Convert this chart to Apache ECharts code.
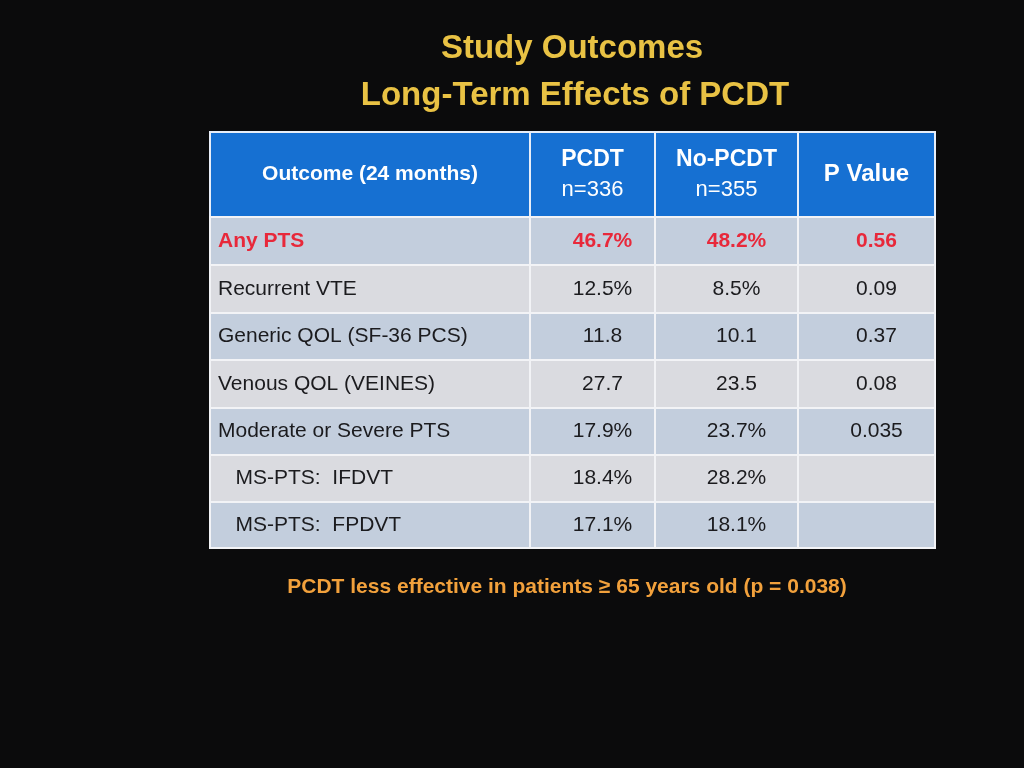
<!DOCTYPE html>
<html><head><meta charset="utf-8">
<script src="https://cdn.jsdelivr.net/npm/echarts@6/dist/echarts.min.js"></script>
<style>html,body{margin:0;background:#0b0b0c}#c{width:1024px;height:768px}</style>
</head><body><div id="c"></div>
<script>
const FF = "'Liberation Sans', Arial, sans-serif";
const titleLines = ['Study Outcomes', 'Long-Term Effects of PCDT'];
const headers = ['Outcome (24 months)', 'PCDT|n=336', 'No-PCDT|n=355', 'P Value'];
const outcomes = ['Any PTS','Recurrent VTE','Generic QOL (SF-36 PCS)','Venous QOL (VEINES)','Moderate or Severe PTS','   MS-PTS:  IFDVT','   MS-PTS:  FPDVT'];
const pcdt = ['46.7%','12.5%','11.8','27.7','17.9%','18.4%','17.1%'];
const noPcdt = ['48.2%','8.5%','10.1','23.5','23.7%','28.2%','18.1%'];
const pValues = ['0.56','0.09','0.37','0.08','0.035','',''];
const footnote = 'PCDT less effective in patients \u2265 65 years old (p = 0.038)';

const colEdges = [0, 320, 445, 588, 725];
const rowEdges = [0, 85, 133, 181, 228, 276, 323, 370, 416];
const data = [];
for (let c = 0; c < 4; c++) data.push([c, 0, headers[c]]);
for (let r = 0; r < outcomes.length; r++) {
  [outcomes[r], pcdt[r], noPcdt[r], pValues[r]].forEach((t, c) => data.push([c, r + 1, t]));
}
const chart = echarts.init(document.getElementById('c'));
const tStyle = {color: '#e9c244', fontSize: 33, fontWeight: 'bold', fontFamily: FF};
chart.setOption({
  backgroundColor: '#0b0b0c',
  title: [
    {text: titleLines[0], left: 567, top: 27, textAlign: 'center', textStyle: tStyle},
    {text: titleLines[1], left: 570, top: 74, textAlign: 'center', textStyle: tStyle},
    {text: footnote, left: 562, top: 572, textAlign: 'center', textStyle: {color: '#f2a13c', fontSize: 21, fontWeight: 'bold', fontFamily: FF}}
  ],
  grid: {left: 210, top: 132, width: 725, height: 416},
  xAxis: {type: 'value', min: 0, max: 725, show: false},
  yAxis: {type: 'value', min: 0, max: 416, inverse: true, show: false},
  series: [{
    type: 'custom',
    data: data,
    renderItem: function (params, api) {
      const c = api.value(0), r = api.value(1);
      const text = data[params.dataIndex][2];
      const p0 = api.coord([colEdges[c], rowEdges[r]]);
      const p1 = api.coord([colEdges[c + 1], rowEdges[r + 1]]);
      const header = r === 0;
      const fill = header ? '#1670d2' : (r % 2 === 1 ? '#c3cedd' : '#dadbe0');
      const red = r === 1;
      const left = c === 0 && !header;
      const tx = left ? p0[0] + 8 : (p0[0] + p1[0]) / 2 + (header || c === 0 ? 0 : 10);
      const ty = (p0[1] + p1[1]) / 2;
      let txtStyle;
      if (header && text.indexOf('|') >= 0) {
        const parts = text.split('|');
        txtStyle = {text: '{b|' + parts[0] + '}\n{n|' + parts[1] + '}', x: tx, y: ty, align: 'center', verticalAlign: 'middle',
          fill: '#fff', fontFamily: FF,
          rich: {b: {fontSize: 23, fontWeight: 'bold', fill: '#fff', fontFamily: FF, lineHeight: 30},
                 n: {fontSize: 22, fill: '#fff', fontFamily: FF, lineHeight: 30}}};
      } else {
        txtStyle = {text: text, x: tx, y: ty, align: left ? 'left' : 'center', verticalAlign: 'middle',
          fill: header ? '#ffffff' : (red ? '#e8283a' : '#1b1b1e'),
          fontSize: header ? (c === 0 ? 21 : 24) : 21,
          fontWeight: header || red ? 'bold' : 'normal', fontFamily: FF};
      }
      return {
        type: 'group',
        children: [
          {type: 'rect', shape: {x: p0[0], y: p0[1], width: p1[0] - p0[0], height: p1[1] - p0[1]},
           style: {fill: fill, stroke: header ? '#e8eef8' : '#f2f3f6', lineWidth: 2}},
          {type: 'text', style: txtStyle}
        ]
      };
    }
  }]
});
</script></body></html>
